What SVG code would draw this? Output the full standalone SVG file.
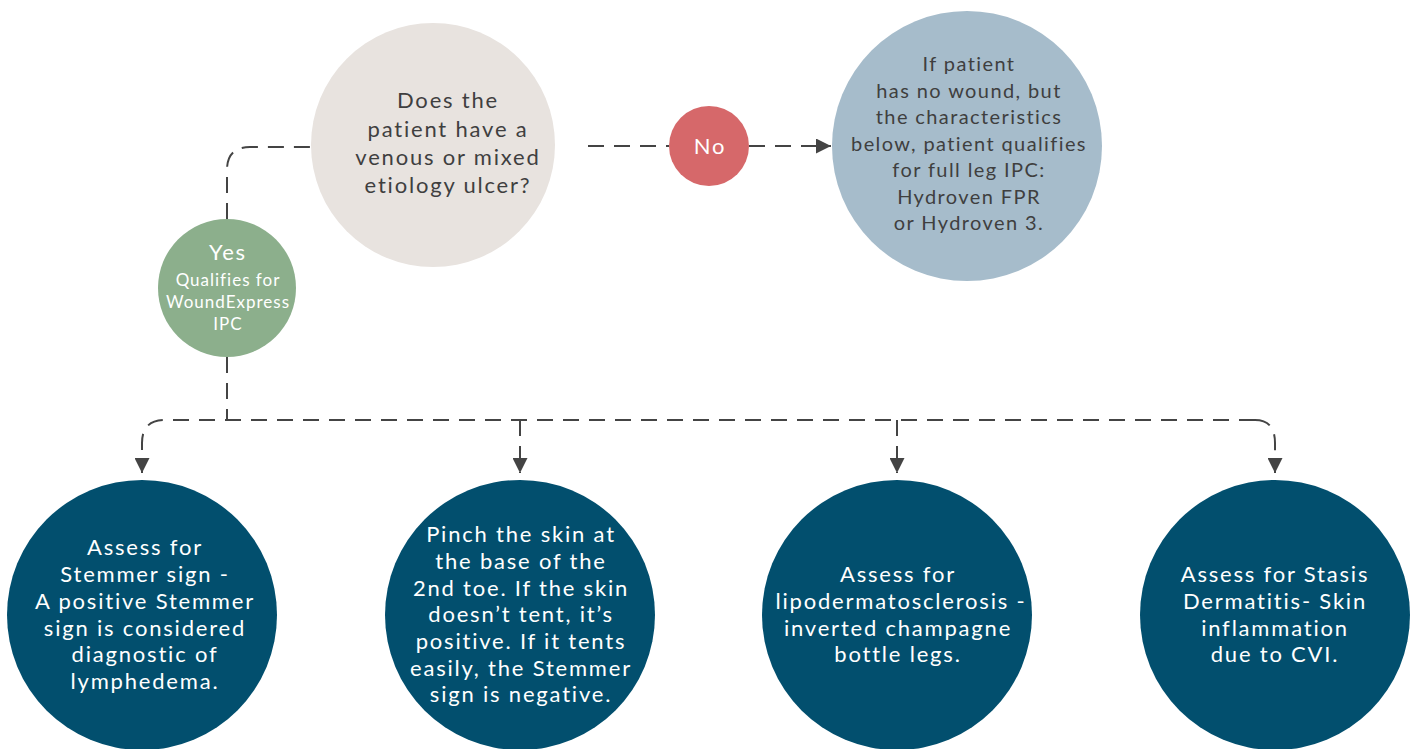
<svg xmlns="http://www.w3.org/2000/svg" width="1421" height="749" viewBox="0 0 1421 749">
<defs>
<marker id="arrL" viewBox="0 0 10 10" refX="10" refY="5" markerWidth="17" markerHeight="15" markerUnits="userSpaceOnUse" orient="auto"><path d="M0,0 L10,5 L0,10 z" fill="#444"/></marker>
</defs>
<style>
text{font-family:"Lato","Noto Sans",sans-serif;text-anchor:middle}
.dk{fill:#3f3f3f;font-size:22px;letter-spacing:1.8px}
.wh{fill:#ffffff;font-size:22px;letter-spacing:1.8px}
.sm{fill:#ffffff;font-size:17px;letter-spacing:1px}
.bt{fill:#3f3f3f;font-size:20px;letter-spacing:1.4px}
.c{fill:none;stroke:#444;stroke-width:2;stroke-dasharray:16 10}
</style>
<rect width="1421" height="749" fill="#ffffff"/>
<g id="connectors">
<path class="c" d="M227,219 V170 Q227,147 250,147 H311"/>
<path class="c" d="M588,146 H669"/>
<path class="c" d="M749,146 H831" marker-end="url(#arrL)"/>
<path class="c" d="M227,357 V420"/>
<path class="c" d="M1255,420 H165 Q142,420 142,443 V473" marker-end="url(#arrL)"/>
<path class="c" d="M1255,420 Q1275,420 1275,443 V473" marker-end="url(#arrL)"/>
<path class="c" d="M520,420 V473" marker-end="url(#arrL)"/>
<path class="c" d="M897,420 V473" marker-end="url(#arrL)"/>
</g>
<g id="question">
<circle cx="433" cy="145" r="122" fill="#e8e3df"/>
<text class="dk"><tspan x="448" y="108">Does the</tspan><tspan x="448" y="137">patient have a</tspan><tspan x="448" y="165">venous or mixed</tspan><tspan x="448" y="193">etiology ulcer?</tspan></text>
</g>
<g id="no">
<circle cx="709" cy="146" r="40" fill="#d6686a"/>
<text class="wh" x="710" y="154">No</text>
</g>
<g id="noresult">
<circle cx="967" cy="146" r="135" fill="#a6bccb"/>
<text class="bt"><tspan x="969" y="71">If patient</tspan><tspan x="969" y="98">has no wound, but</tspan><tspan x="969" y="124">the characteristics</tspan><tspan x="969" y="151">below, patient qualifies</tspan><tspan x="969" y="177">for full leg IPC:</tspan><tspan x="969" y="204">Hydroven FPR</tspan><tspan x="969" y="230">or Hydroven 3.</tspan></text>
</g>
<g id="yes">
<circle cx="227" cy="288" r="69" fill="#8caf8c"/>
<text class="wh" x="228" y="260">Yes</text>
<text class="sm"><tspan x="228" y="286">Qualifies for</tspan><tspan x="228" y="308">WoundExpress</tspan><tspan x="228" y="330">IPC</tspan></text>
</g>
<g id="stemmer">
<circle cx="142" cy="615" r="135" fill="#024f6e"/>
<text class="wh"><tspan x="145" y="555">Assess for</tspan><tspan x="145" y="582">Stemmer sign -</tspan><tspan x="145" y="609">A positive Stemmer</tspan><tspan x="145" y="636">sign is considered</tspan><tspan x="145" y="662">diagnostic of</tspan><tspan x="145" y="689">lymphedema.</tspan></text>
</g>
<g id="pinch">
<circle cx="520" cy="615" r="135" fill="#024f6e"/>
<text class="wh"><tspan x="521" y="542">Pinch the skin at</tspan><tspan x="521" y="569">the base of the</tspan><tspan x="521" y="596">2nd toe. If the skin</tspan><tspan x="521" y="622">doesn’t tent, it’s</tspan><tspan x="521" y="649">positive. If it tents</tspan><tspan x="521" y="676">easily, the Stemmer</tspan><tspan x="521" y="702">sign is negative.</tspan></text>
</g>
<g id="lipo">
<circle cx="897" cy="615" r="135" fill="#024f6e"/>
<text class="wh"><tspan x="898" y="582">Assess for</tspan><tspan x="901" y="609">lipodermatosclerosis -</tspan><tspan x="898" y="636">inverted champagne</tspan><tspan x="898" y="662">bottle legs.</tspan></text>
</g>
<g id="stasis">
<circle cx="1275" cy="615" r="135" fill="#024f6e"/>
<text class="wh"><tspan x="1275" y="582">Assess for Stasis</tspan><tspan x="1275" y="609">Dermatitis- Skin</tspan><tspan x="1275" y="636">inflammation</tspan><tspan x="1275" y="662">due to CVI.</tspan></text>
</g>
</svg>
